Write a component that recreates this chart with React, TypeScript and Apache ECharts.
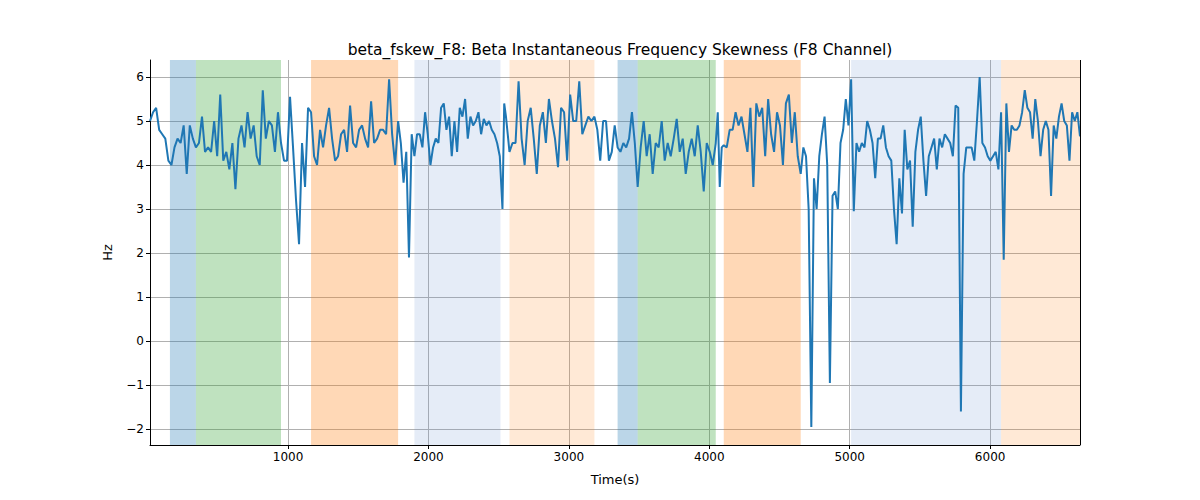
import { useEffect, useRef } from "react";
import * as echarts from "echarts";

const title = "beta_fskew_F8: Beta Instantaneous Frequency Skewness (F8 Channel)";
const tStart = 17;
const tEnd = 6640;
const xTicks = [1000, 2000, 3000, 4000, 5000, 6000];
const yTicks = [-2, -1, 0, 1, 2, 3, 4, 5, 6];

// skewness samples, grouped by time span [from, to, samples]
const segments: [number, number, number[]][] = [
  [17, 344, [5.0, 5.2, 5.3, 4.8, 4.7, 4.6, 4.1, 4.0, 4.4, 4.6, 4.5, 4.9, 3.8, 4.9, 4.6]],
  [344, 950, [4.4, 4.5, 5.1, 4.3, 4.4, 4.3, 5.0, 4.2, 5.6, 4.1, 4.3, 3.9, 4.5, 3.45, 4.6, 4.9, 4.4, 5.2, 4.6, 4.9, 4.2, 4.0, 5.7, 4.6, 5.0, 4.9, 4.3, 5.2]],
  [950, 1164, [4.5, 4.1, 4.1, 5.55, 4.4, 3.2, 2.2, 4.5, 3.5, 5.3]],
  [1164, 1784, [5.2, 4.2, 4.0, 4.8, 4.4, 4.9, 5.3, 4.6, 4.1, 4.2, 4.7, 4.8, 4.3, 5.35, 4.5, 4.4, 4.8, 4.9, 4.6, 4.4, 5.45, 4.5, 4.6, 4.8, 4.8, 4.7, 5.95, 4.7, 4.0]],
  [1784, 1900, [5.0, 4.5, 3.6, 4.3, 1.9, 4.7]],
  [1900, 2527, [4.2, 4.7, 4.7, 4.4, 5.2, 4.7, 4.0, 4.4, 4.6, 4.5, 5.3, 5.4, 4.8, 5.1, 4.2, 5.0, 4.3, 5.3, 5.1, 5.5, 4.6, 5.1, 4.9, 5.0, 5.2, 4.7, 5.05, 4.9, 5.0, 4.8, 4.7, 4.5, 4.2]],
  [2527, 2577, [3.0, 5.4, 5.1, 4.7]],
  [2577, 3182, [4.3, 4.5, 4.5, 5.9, 4.6, 4.0, 5.0, 5.3, 4.6, 3.8, 4.9, 5.2, 4.5, 5.5, 5.0, 4.6, 3.95, 5.3, 5.2, 4.1, 5.6, 5.0, 5.0, 5.9, 4.7, 4.9, 5.1, 5.0]],
  [3182, 3347, [5.1, 4.8, 4.1, 5.0, 5.0, 4.1, 4.3, 4.9]],
  [3347, 3490, [4.4, 4.3, 4.5, 4.4, 4.6, 5.2, 4.5]],
  [3490, 4046, [3.5, 4.4, 5.0, 4.2, 4.7, 3.8, 4.5, 4.4, 5.0, 4.1, 4.5, 4.2, 4.6, 5.05, 4.3, 4.6, 3.8, 4.3, 4.6, 4.2, 4.9, 4.3, 3.4, 4.5, 4.3, 4.0]],
  [4046, 4103, [4.5, 5.2, 3.5, 4.4]],
  [4103, 4651, [4.45, 4.4, 4.8, 4.8, 5.2, 4.9, 5.1, 4.7, 4.3, 5.3, 3.5, 5.4, 5.1, 5.3, 4.2, 5.5, 4.7, 4.3, 5.2, 4.9, 4.0, 5.4, 5.6, 4.5, 5.2, 4.2]],
  [4651, 5010, [3.8, 4.4, 4.2, 3.0, -1.95, 3.7, 3.0, 4.2, 4.7, 5.1, 4.0, -0.95, 3.3, 3.4, 3.0, 4.5, 4.8, 5.5, 4.9]],
  [5010, 6078, [5.95, 2.95, 4.5, 4.3, 4.5, 4.4, 5.0, 4.8, 4.5, 3.7, 4.6, 4.6, 4.9, 4.4, 4.2, 4.1, 3.0, 2.2, 3.7, 2.9, 4.8, 3.9, 4.1, 2.6, 4.3, 4.8, 5.1, 4.1, 3.3, 4.2, 4.4, 4.6, 3.9, 4.6, 4.4, 4.7, 4.6, 4.5, 4.2, 5.35, 5.3, -1.6, 3.8, 4.4, 4.4, 4.4, 4.1, 5.0, 6.0, 4.5, 4.4, 4.2, 4.1, 4.2, 4.3, 3.9]],
  [6078, 6640, [5.2, 1.85, 5.4, 4.3, 4.9, 4.8, 4.8, 4.9, 5.2, 5.7, 5.3, 5.2, 4.6, 5.5, 5.0, 4.2, 4.8, 5.0, 4.8, 3.3, 4.9, 4.6, 5.1, 5.4, 5.0, 4.9, 4.1, 5.2, 5.0, 5.2, 4.65]],
];

// shaded intervals: [start, end, colour]
const bands: [number, number, string][] = [
  [159, 344, "rgba(31,119,180,0.3)"],
  [344, 950, "rgba(44,160,44,0.3)"],
  [1164, 1784, "rgba(255,127,14,0.3)"],
  [1900, 2513, "rgba(100,140,205,0.17)"],
  [2577, 3182, "rgba(255,127,14,0.17)"],
  [3347, 3490, "rgba(31,119,180,0.3)"],
  [3490, 4046, "rgba(44,160,44,0.3)"],
  [4103, 4651, "rgba(255,127,14,0.3)"],
  [5010, 6078, "rgba(100,140,205,0.17)"],
  [6078, 6640, "rgba(255,127,14,0.17)"],
];

const App = () => {
  const chartRef = useRef<HTMLDivElement>(null);

  useEffect(() => {
    if (!chartRef.current) return;
    const chart = echarts.init(chartRef.current, undefined, { renderer: "svg" });
    const points: number[][] = [];
    segments.forEach(([a, b, vals], si) => {
      const last = si === segments.length - 1;
      const n = last ? vals.length - 1 : vals.length;
      vals.forEach((v, i) => points.push([a + (i * (b - a)) / n, v]));
    });
    const font = "DejaVu Sans";

    chart.setOption({
      animation: false,
      textStyle: { fontFamily: font },
      title: {
        text: title,
        left: 615,
        top: 37,
        textAlign: "center",
        textStyle: { fontSize: 15.5, fontWeight: "normal", color: "#000", fontFamily: font },
      },
      grid: { left: 150, right: 120, top: 60, bottom: 55 },
      xAxis: {
        type: "value",
        min: tStart,
        max: tEnd,
        name: "Time(s)",
        nameLocation: "middle",
        nameGap: 28,
        nameTextStyle: { fontSize: 13, color: "#000" },
        axisLine: { onZero: false, lineStyle: { color: "#000" } },
        axisTick: { show: true, customValues: xTicks, length: 4, lineStyle: { color: "#000" } },
        axisLabel: { customValues: xTicks, color: "#000", fontSize: 12, margin: 6, formatter: (v: number) => String(v) },
        splitLine: { show: true, lineStyle: { color: "#b0b0b0", width: 1 } },
      },
      yAxis: {
        type: "value",
        min: -2.36,
        max: 6.386,
        name: "Hz",
        nameLocation: "middle",
        nameGap: 36,
        nameTextStyle: { fontSize: 13, color: "#000" },
        axisLine: { show: true, lineStyle: { color: "#000" } },
        axisTick: { show: true, customValues: yTicks, length: 4, lineStyle: { color: "#000" } },
        axisLabel: { customValues: yTicks, color: "#000", fontSize: 12, margin: 6, formatter: (v: number) => (v < 0 ? "\u2212" + -v : String(v)) },
        splitLine: { show: true, lineStyle: { color: "#b0b0b0", width: 1 } },
      },
      series: [
        {
          type: "line",
          data: points,
          showSymbol: false,
          lineStyle: { color: "#1f77b4", width: 2 },
          z: 3,
          markArea: {
            silent: true,
            data: bands.map(([a, b, c]) => [
              { xAxis: a, itemStyle: { color: c } },
              { xAxis: b },
            ]),
          },
        },
        {
          type: "line",
          data: [],
          markLine: {
            silent: true,
            symbol: "none",
            label: { show: false },
            lineStyle: { color: "#000", width: 1, type: "solid" },
            data: [{ yAxis: 6.386 }, { xAxis: tEnd }],
          },
        },
      ],
    });

    return () => {
      chart.dispose();
    };
  }, []);

  return (
    <div
      ref={chartRef}
      style={{ position: "fixed", left: 0, top: 0, width: "1200px", height: "500px", background: "#fff" }}
    />
  );
};

export default App;
